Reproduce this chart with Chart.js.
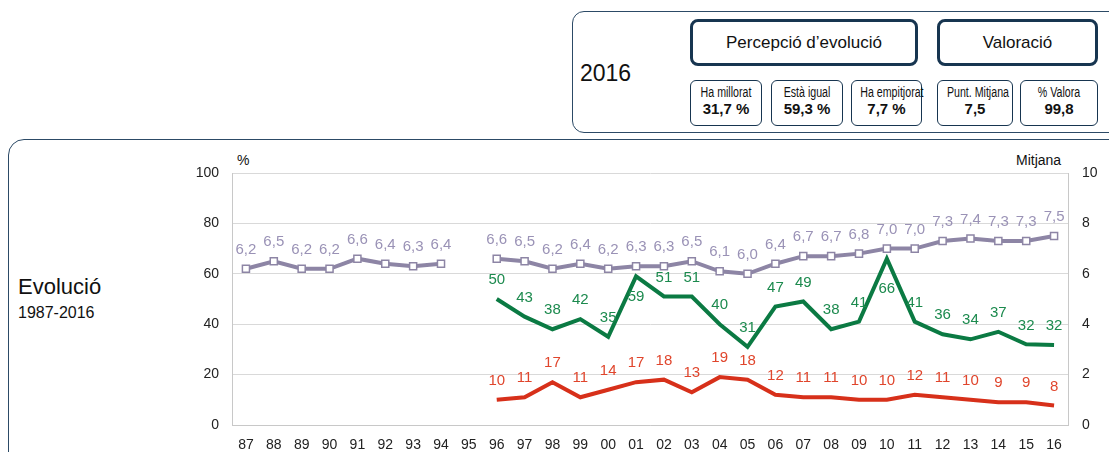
<!DOCTYPE html>
<html>
<head>
<meta charset="utf-8">
<script src="https://cdn.jsdelivr.net/npm/chart.js@4.4.1/dist/chart.umd.min.js"></script>
<style>
  body { margin: 0; width: 1109px; height: 452px; overflow: hidden; background: #fff; font-family: "Liberation Sans", Arial, sans-serif; color: #111; }
  .abs { position: absolute; }
  .topbox { left: 572px; top: 11px; width: 560px; height: 120px; border: 1.5px solid #2c4a66; border-radius: 12px; }
  .chartbox { left: 8px; top: 139px; width: 1130px; height: 340px; border: 1.5px solid #2c4a66; border-radius: 16px; }
  .big { border: 3px solid #173550; border-radius: 8px; display: flex; align-items: center; justify-content: center; font-size: 17px; box-sizing: border-box; }
  .small { border: 1.5px solid #173550; border-radius: 6px; box-sizing: border-box; text-align: center; white-space: nowrap; }
  .small .t { font-size: 14px; margin-top: 3px; transform: scaleX(0.76); transform-origin: center; }
  .small .v { font-weight: bold; font-size: 15px; margin-top: 0px; }
</style>
</head>
<body>
<div class="abs topbox"></div>
<div class="abs" style="left:580px;top:60px;font-size:23px;">2016</div>
<div class="abs big" style="left:690px;top:19px;width:228px;height:47px;">Percepció d’evolució</div>
<div class="abs big" style="left:937px;top:19px;width:161px;height:47px;">Valoració</div>
<div class="abs small" style="left:690px;top:80px;width:72px;height:46px;"><div class="t">Ha millorat</div><div class="v">31,7 %</div></div>
<div class="abs small" style="left:771px;top:80px;width:72px;height:46px;"><div class="t">Està igual</div><div class="v">59,3 %</div></div>
<div class="abs small" style="left:851px;top:80px;width:71px;height:46px;"><div class="t">Ha empitjorat</div><div class="v">7,7 %</div></div>
<div class="abs small" style="left:937px;top:80px;width:76px;height:46px;"><div class="t">Punt. Mitjana</div><div class="v">7,5</div></div>
<div class="abs small" style="left:1020px;top:80px;width:78px;height:46px;"><div class="t">% Valora</div><div class="v">99,8</div></div>

<div class="abs chartbox"></div>
<div class="abs" style="left:18px;top:274px;font-size:22px;">Evolució</div>
<div class="abs" style="left:18px;top:304px;font-size:16px;">1987-2016</div>
<div class="abs" style="left:237px;top:152px;font-size:14px;">%</div>
<div class="abs" style="left:1016px;top:152px;font-size:14px;">Mitjana</div>

<div class="abs" style="left:190px;top:150px;width:919px;height:302px;">
  <canvas id="evolucio"></canvas>
</div>

<script>
const anys = ['87','88','89','90','91','92','93','94','95','96','97','98','99','00','01','02','03','04','05','06','07','08','09','10','11','12','13','14','15','16'];
const mitjana = [6.2, 6.5, 6.2, 6.2, 6.6, 6.4, 6.3, 6.4, null, 6.6, 6.5, 6.2, 6.4, 6.2, 6.3, 6.3, 6.5, 6.1, 6.0, 6.4, 6.7, 6.7, 6.8, 7.0, 7.0, 7.3, 7.4, 7.3, 7.3, 7.5];
const millorat = [null, null, null, null, null, null, null, null, null, 50, 43, 38, 42, 35, 59, 51, 51, 40, 31, 47, 49, 38, 41, 66, 41, 36, 34, 37, 32, 31.7];
const empitjorat = [null, null, null, null, null, null, null, null, null, 10, 11, 17, 11, 14, 17, 18, 13, 19, 18, 12, 11, 11, 10, 10, 12, 11, 10, 9, 9, 7.7];

// etiquetes sobre els punts (algunes van a sota)
const etiquetes = {
  id: 'etiquetes',
  afterDatasetsDraw(chart) {
    const ctx = chart.ctx;
    ctx.save();
    ctx.font = '15px "Liberation Sans", Arial, sans-serif';
    ctx.textAlign = 'center';
    ctx.textBaseline = 'middle';
    chart.data.datasets.forEach((ds, i) => {
      const meta = chart.getDatasetMeta(i);
      ctx.fillStyle = ds.labelColor;
      meta.data.forEach((pt, j) => {
        const v = ds.data[j];
        if (v === null || v === undefined) return;
        const txt = ds.decimals ? v.toFixed(1).replace('.', ',') : String(Math.round(v));
        const below = ds.below && ds.below.includes(j);
        const y = below ? pt.y + (ds.belowGap ? ds.belowGap[ds.below.indexOf(j)] : 20) : pt.y - 19;
        ctx.fillText(txt, pt.x, y);
      });
    });
    ctx.restore();
  }
};

new Chart(document.getElementById('evolucio'), {
  type: 'line',
  data: {
    labels: anys,
    datasets: [
      {
        label: 'Mitjana',
        data: mitjana,
        yAxisID: 'y2',
        borderColor: '#8d85a5',
        borderWidth: 4,
        pointStyle: 'rect',
        pointRadius: 5,
        pointBorderWidth: 1.5,
        pointBackgroundColor: '#fff',
        pointBorderColor: '#8d85a5',
        labelColor: '#9a92b6',
        decimals: true,
        spanGaps: false
      },
      {
        label: 'Ha millorat',
        data: millorat,
        yAxisID: 'y',
        borderColor: '#0b7a43',
        borderWidth: 4,
        pointRadius: 0,
        labelColor: '#1c8a4e',
        below: [14, 23],
        belowGap: [21, 30]
      },
      {
        label: 'Ha empitjorat',
        data: empitjorat,
        yAxisID: 'y',
        borderColor: '#d7301a',
        borderWidth: 4,
        pointRadius: 0,
        labelColor: '#e0452c'
      }
    ]
  },
  options: {
    responsive: true,
    maintainAspectRatio: false,
    animation: false,
    layout: { padding: { top: 23 } },
    plugins: { legend: { display: false }, tooltip: { enabled: false } },
    scales: {
      x: {
        offset: true,
        grid: { display: false },
        border: { color: '#c8c8c8' },
        ticks: { color: '#222', font: { size: 14 }, maxRotation: 0, autoSkip: false, padding: 4 },
        afterFit: s => { s.height = 27; }
      },
      y: {
        position: 'left',
        min: 0, max: 100,
        ticks: { stepSize: 20, color: '#222', font: { size: 14 }, padding: 13 },
        grid: { color: '#d9d9d9', drawTicks: false },
        border: { color: '#c8c8c8' },
        afterFit: s => { s.width = 42; }
      },
      y2: {
        position: 'right',
        min: 0, max: 10,
        ticks: { stepSize: 2, color: '#222', font: { size: 14 }, padding: 14 },
        grid: { drawOnChartArea: false, drawTicks: false },
        border: { color: '#c8c8c8' },
        afterFit: s => { s.width = 41; }
      }
    }
  },
  plugins: [etiquetes]
});
</script>
</body>
</html>
